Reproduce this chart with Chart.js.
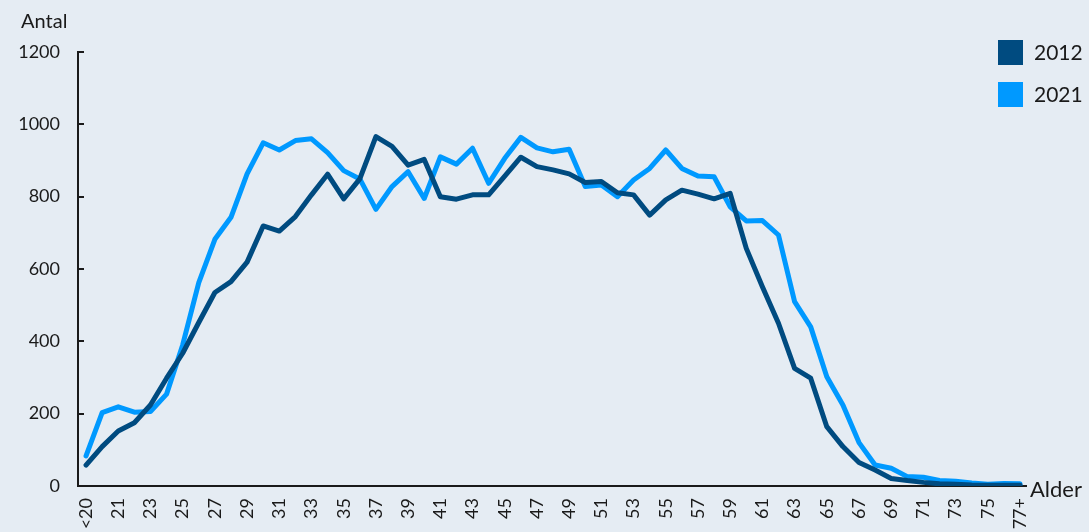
<!DOCTYPE html>
<html>
<head>
<meta charset="utf-8">
<script src="https://cdn.jsdelivr.net/npm/chart.js@4.4.1/dist/chart.umd.min.js"></script>
<style>
  html, body { margin: 0; padding: 0; background: #e5ecf3; }
  #wrap { width: 1089px; height: 532px; position: relative; }
</style>
</head>
<body>
<div id="wrap"><canvas id="c" width="1089" height="532"></canvas></div>
<script>
const categories = ["<20","20","21","22","23","24","25","26","27","28","29","30","31","32","33","34","35","36","37","38","39","40","41","42","43","44","45","46","47","48","49","50","51","52","53","54","55","56","57","58","59","60","61","62","63","64","65","66","67","68","69","70","71","72","73","74","75","76","77+"];

const series2012 = [58,109,152,175,224,298,367,452,535,565,619,719,705,745,805,862,794,849,966,939,887,903,800,793,805,805,857,909,883,874,863,839,842,811,805,749,791,818,807,794,809,657,551,450,325,298,164,109,65,44,21,15,10,6,5,3,2,2,2];

const series2021 = [83,203,219,204,206,254,390,562,682,743,863,949,929,955,960,922,872,849,765,828,869,795,910,890,934,837,906,964,935,924,931,828,832,800,846,878,929,878,857,855,772,733,734,694,510,440,302,224,120,58,49,26,24,15,13,8,5,7,6];

const yTicks = [0,200,400,600,800,1000,1200];
const seriesNames = ["2012","2021"];
const seriesColors = ["#004b80","#0099ff"];
const yTitle = "Antal";
const xTitle = "Alder";

const FONT = "Lato, 'Noto Sans', sans-serif";
const TEXT = "#1a1a1a";

const toPoints = arr => arr.map((v, i) => ({x: i, y: v}));

const extras = {
  id: 'extras',
  afterDraw(chart) {
    const ctx = chart.ctx;
    const ca = chart.chartArea;
    const ys = chart.scales.y;
    ctx.save();
    ctx.strokeStyle = TEXT;
    ctx.lineWidth = 2;
    yTicks.forEach(v => {
      const py = Math.round(ys.getPixelForValue(v));
      ctx.beginPath();
      ctx.moveTo(ca.left, py);
      ctx.lineTo(ca.left + 6, py);
      ctx.stroke();
    });
    ctx.fillStyle = TEXT;
    ctx.font = "20px " + FONT;
    ctx.textBaseline = "alphabetic";
    ctx.textAlign = "left";
    ctx.fillText(yTitle, 21, 28);
    ctx.font = "22px " + FONT;
    ctx.textBaseline = "middle";
    ctx.fillText(xTitle, ca.right + 4, ca.bottom + 4);
    ctx.font = "21px " + FONT;
    chart.data.datasets.forEach((ds, i) => {
      const top = 40 + i * 42;
      ctx.fillStyle = ds.borderColor;
      ctx.fillRect(ca.right - 28, top, 25, 25);
      ctx.fillStyle = TEXT;
      ctx.textBaseline = "middle";
      ctx.fillText(ds.label, ca.right + 8, top + 13);
    });
    ctx.restore();
  }
};

new Chart(document.getElementById('c'), {
  type: 'line',
  data: {
    datasets: [
      { label: seriesNames[0], data: toPoints(series2012), borderColor: seriesColors[0], backgroundColor: seriesColors[0], borderWidth: 5, pointRadius: 0, tension: 0, borderJoinStyle: 'round', borderCapStyle: 'round' },
      { label: seriesNames[1], data: toPoints(series2021), borderColor: seriesColors[1], backgroundColor: seriesColors[1], borderWidth: 5, pointRadius: 0, tension: 0, borderJoinStyle: 'round', borderCapStyle: 'round' }
    ]
  },
  options: {
    responsive: false,
    animation: false,
    events: [],
    layout: { padding: { left: 0, right: 63, top: 52, bottom: 0 } },
    plugins: { legend: { display: false }, tooltip: { enabled: false } },
    scales: {
      x: {
        type: 'linear',
        min: -0.5,
        max: 58.37,
        afterBuildTicks(scale) {
          scale.ticks = categories.map((c, i) => ({ value: i }));
        },
        afterFit(scale) { scale.height = 46; },
        grid: { display: false, drawTicks: false },
        border: { display: true, color: TEXT, width: 2 },
        ticks: {
          autoSkip: false,
          minRotation: 90,
          maxRotation: 90,
          padding: 12,
          color: TEXT,
          font: { family: FONT, size: 18 },
          callback: (v) => (Number.isInteger(v) && v % 2 === 0) ? categories[v] : ''
        }
      },
      y: {
        min: 0,
        max: 1200,
        afterBuildTicks(scale) {
          scale.ticks = yTicks.map(v => ({ value: v }));
        },
        afterFit(scale) { scale.width = 78; },
        grid: { display: false, drawTicks: false },
        border: { display: true, color: TEXT, width: 2 },
        ticks: {
          padding: 18,
          color: TEXT,
          font: { family: FONT, size: 18 },
          callback: (v) => String(v)
        }
      }
    }
  },
  plugins: [extras]
});
</script>
</body>
</html>
